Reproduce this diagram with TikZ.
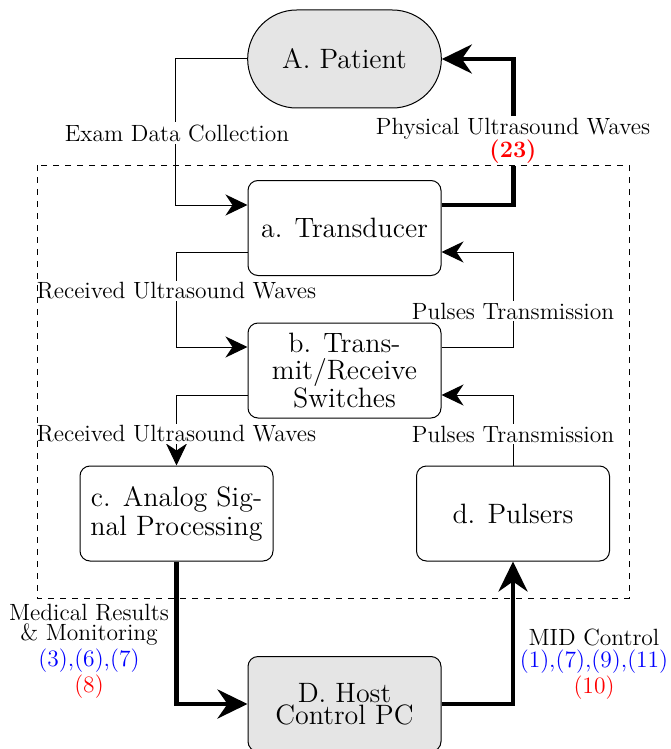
\documentclass[tikz,border=0pt]{standalone}
\usetikzlibrary{arrows.meta,shapes.misc,calc}
\newcommand\tightls{\lineskiplimit=-20pt\relax}
\begin{document}
\begin{tikzpicture}[x=0.5pt,y=-0.5pt,
  box/.style={draw, line width=0.5pt, rounded corners=5pt, minimum width=96.5pt, minimum height=47.5pt, align=center, inner sep=1pt},
  lab/.style={fill=white, inner sep=1pt, align=center, font=\fontsize{11.75}{12}\selectfont\tightls},
  thinarr/.style={line width=0.5pt, -{Stealth[length=11pt,width=10.5pt,inset=3.5pt]}},
  thickarr/.style={line width=2.2pt, -{Stealth[length=15pt,width=14.5pt,inset=5pt]}},
  frame/.style={draw, dashed, line width=0.5pt}
]
\useasboundingbox (0,0) rectangle (670,749);

% nodes
\node[draw, line width=0.5pt, rounded rectangle, fill=gray!20, minimum width=103.5pt, minimum height=49pt, font=\fontsize{14}{16}\selectfont] (P) at (344.5,59) {A. Patient};
\node[box, font=\fontsize{14}{16}\selectfont] (T) at (344.5,228) {a. Transducer};
\node[box, font=\fontsize{14}{13.75}\selectfont\tightls] (S) at (344.5,370.5) {b. Trans-\\mit/Receive\\Switches};
\node[box, font=\fontsize{14}{14.5}\selectfont\tightls] (A) at (176.5,513.5) {c. Analog Sig-\\nal Processing};
\node[box, font=\fontsize{14}{16}\selectfont] (D) at (513,513.5) {d. Pulsers};
\node[box, fill=gray!20, font=\fontsize{14}{11.25}\selectfont\tightls] (H) at (344.5,704) {D. Host\\Control PC};

% connectors
\draw[thinarr] (P.west) -- ++(-71.5,0) |- ($(T.west)+(0,-23)$);
\draw[thickarr] ($(T.east)+(0,-23)$) -- ++(72,0) |- (P.east);
\draw[thinarr] ($(T.west)+(0,24)$) -- ++(-71.5,0) |- ($(S.west)+(0,-23.5)$);
\draw[thinarr] ($(S.east)+(0,-23.5)$) -- ++(72,0) |- ($(T.east)+(0,24)$);
\draw[thinarr] ($(S.west)+(0,24.5)$) -| (A.north);
\draw[thinarr] (D.north) |- ($(S.east)+(0,24.5)$);
\draw[thickarr] (A.south) |- (H.west);
\draw[thickarr] (H.east) -| (D.south);

% labels
\node[lab] (l1) at (177,133) {Exam Data Collection};
\node[lab] (l2) at (513,141) {Physical Ultrasound Waves\\[-0.5pt]\textcolor{red}{\textbf{(23)}}};
\node[lab] (l3) at (176.5,291) {Received Ultrasound Waves};
\node[lab] (l4) at (513,311) {Pulses Transmission};
\node[lab] (l5) at (176.5,434) {Received Ultrasound Waves};
\node[lab] (l6) at (513,434) {Pulses Transmission};
\node[lab, font=\fontsize{11.75}{10}\selectfont\tightls] (l7) at (89,651) {Medical Results\\\& Monitoring\\[3pt]\textcolor{blue}{(3),(6),(7)}\\[3pt]\textcolor{red}{(8)}};
\node[lab, font=\fontsize{11.75}{10}\selectfont\tightls] (l8) at (594,664) {MID Control\\[1pt]\textcolor{blue}{(1),(7),(9),(11)}\\[3pt]\textcolor{red}{(10)}};

% dashed frame
\draw[frame] (37,165) rectangle (629,598);
\end{tikzpicture}
\end{document}
